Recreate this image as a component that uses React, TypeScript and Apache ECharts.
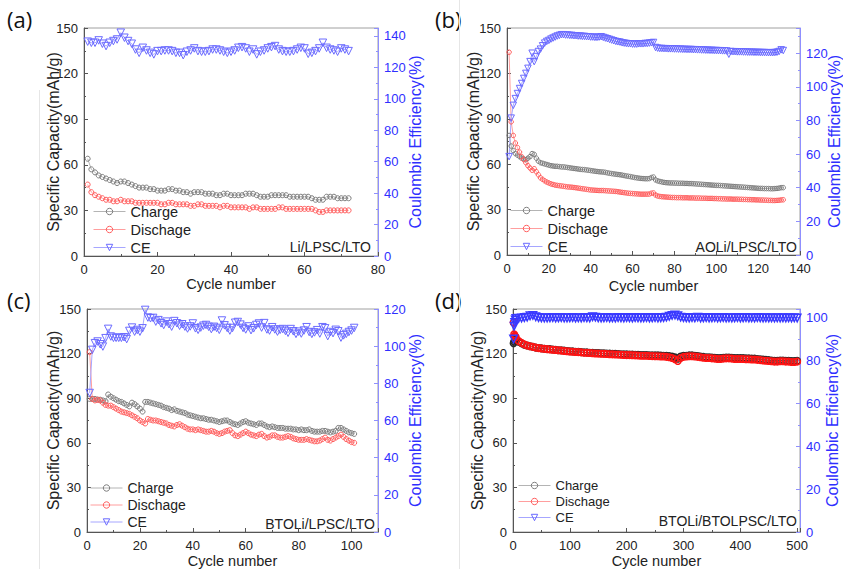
import React, { useEffect, useRef } from 'react';
import * as echarts from 'echarts';

const FONT = '"Liberation Sans", Arial, Helvetica, sans-serif';

// ---------- Panel (a) Li/LPSC/LTO : 72 cycles ----------
const chargeA = [64,57,55,53,52,51,50,49,48,49,49,48,47,46,45,45,45,44,44,43,43,43,44,44,43,43,42,42,41,42,42,42,41,41,41,40,40,41,41,40,40,40,40,41,41,41,40,39,39,39,40,40,40,40,40,39,39,39,39,39,39,38,37,37,37,39,39,39,38,38,38,38];
const dischargeA = [47,42,40,39,38,37,37,36,36,37,36,36,36,35,35,35,35,35,35,35,34,34,35,35,34,34,34,34,33,33,34,34,33,33,33,33,32,33,33,32,32,32,32,32,31,32,32,31,31,31,31,31,32,32,31,31,31,31,31,31,31,31,30,29,29,30,30,30,30,30,30,30];
const ceA = [136.3,135.6,135.6,137.1,135,133.5,135.6,136.7,137.7,142,138.8,136.7,135,131.3,129.2,132.4,130.7,129.2,128.2,130.3,130.3,130.7,130.7,130.3,129.2,129.2,127.7,129.9,130.7,132,130.3,129.9,129.9,130.3,131.3,131.3,130.7,129.9,129.2,129.9,130.7,132.4,132.8,132,129.9,131.3,128.2,129.9,130.7,132,132.8,133.5,131.3,130.3,129.9,129.9,130.3,131.3,132.4,132,128.6,129.2,130.3,132,135.6,132.4,131.3,130.7,129.9,132,131.3,130.3];

// ---------- Panel (b) AOLi/LPSC/LTO : 132 cycles ----------
const chargeB = [79,72,69,67,66,65,64,63.5,63,64,65,67,66.5,64,62,61,60.6,60.2,59.8,59.4,59,58.8,58.6,58.6,58.4,58.2,58.2,58,57.8,57.6,57.4,57.2,57,56.8,56.6,56.5,56.4,56.2,56,55.8,55.6,55.4,55.2,55,54.9,54.8,54.6,54.3,54,53.8,53.6,53.4,53.2,53,52.8,52.5,52.2,52,51.8,51.5,51.2,51,50.8,50.6,50.5,50.4,50.4,50.5,51.2,51.5,49.6,49,48.6,48.3,48,47.8,47.7,47.6,47.6,47.5,47.5,47.4,47.4,47.4,47.3,47.3,47.2,47.2,47.1,47,46.9,46.8,46.7,46.6,46.5,46.4,46.3,46.2,46.1,46,46,45.9,45.8,45.7,45.6,45.5,45.4,45.3,45.2,45.1,45,44.9,44.8,44.7,44.6,44.5,44.4,44.3,44.2,44.1,44,44,43.9,43.9,43.9,43.8,43.8,43.9,44,44.2,44.5,44.5];
const dischargeB = [134,88,79,74,71,68,65,63,61,59,57.5,56,57,55,53,51,50,49,48.2,47.6,47,46.6,46.2,46,45.8,45.6,45.4,45.2,45,44.9,44.8,44.6,44.4,44.2,44,43.8,43.6,43.4,43.2,43,42.9,42.8,42.7,42.6,42.6,42.6,42.5,42.4,42.3,42.2,42.1,42,41.8,41.6,41.4,41.2,41,40.8,40.7,40.6,40.5,40.4,40.3,40.2,40.2,40.2,40.2,40.3,40.8,41,39.6,39,38.7,38.5,38.4,38.3,38.2,38.1,38,38,37.9,37.9,37.9,37.8,37.8,37.8,37.7,37.7,37.7,37.6,37.6,37.6,37.5,37.5,37.5,37.4,37.4,37.4,37.3,37.3,37.2,37.2,37.1,37.1,37,37,37,36.9,36.9,36.9,36.8,36.8,36.7,36.7,36.6,36.6,36.5,36.5,36.4,36.4,36.3,36.3,36.2,36.2,36.1,36.1,36,36,36.1,36.2,36.4,36.5];
const ceB = [58.5,81.4,89,93,96,99,102,105,108,111,115,120,115,118,121,122.4,124.4,126,127,127.6,128.4,129,129.6,130.2,130.6,131,131,130.8,130.8,130.6,130.6,130.4,130.4,130.2,130.2,130,130,129.8,129.8,129.6,129.6,129.4,129.4,129.6,129.8,129.4,129,128.6,128.2,127.8,127.4,127,126.8,126.6,126.2,126,125.8,125.6,125.6,125.4,125.4,125.4,125.6,125.6,125.6,125.8,125.8,126,126.2,126.4,123.4,123,122.8,122.8,122.7,122.7,122.6,122.6,122.6,122.5,122.5,122.4,122.4,122.3,122.3,122.2,122.2,122.2,122.1,122.1,122,122,121.9,121.9,121.8,121.8,121.7,121.7,121.6,121.6,121.5,121.5,121.4,121.4,121.3,119.4,121,120.9,120.9,120.8,120.8,120.8,120.7,120.7,120.6,120.6,120.6,120.5,120.5,120.5,120.4,120.4,120.4,120.3,120.3,120.3,120.3,120.4,120.6,121,122,121.6];

// ---------- Panel (c) BTOLi/LPSC/LTO : 101 cycles ----------
const chargeC = [89.5,89.5,89.5,89,89,88.5,88,92.5,91,90,89,88,87.5,86.5,85.5,84.5,87,86,84.5,83,81,87.5,87.5,87,86.5,86,85.5,85,84,83.5,83,82,82.5,81.5,81,80.5,80,79,78.5,78,77.5,77,76.5,76.5,76,75.5,75.5,75,74.5,74,74.5,75,75,74,73,72.5,72,73,74,74.5,73.5,73,72.5,72,73,73,72,71,70.5,71,70.5,70,70,70,69.5,69.5,69.5,69,69,68.5,69,68.5,68.5,69,68,67.5,67.5,67.5,68,68,67.5,67,67.5,68,70,70,69,68,67,66.5,66];
const dischargeC = [121,89.5,88.5,89,88.5,87,85.5,85,85,84,83,82,81,80.5,80,79.5,78.5,77.5,76.5,75,74,73,76,75.5,75,75,74.5,74,73.5,73,72,71.5,71,72,72.5,71.5,70.5,69.5,69,69,68.5,69,68.5,68,67.5,67.5,68,67.5,66.5,66,66.5,67.5,68,68.5,66.5,65,64.5,65.5,66.5,67.5,66.5,65.5,65,64.5,65.5,66,64.5,63.5,64,65,65,64,63.5,63.5,64,64.5,64,63,62.5,62,62,62,62.5,62,61.5,61,61,61.5,62.5,63.5,62,61.5,62.5,63.5,64.5,65.5,64,62.5,61.5,60.5,60];
const ceC = [74.8,98,101.6,102.5,101,99.8,104.3,109.3,105.2,104.5,104.5,104.5,104.5,104.8,103.8,108.2,110,107.8,108.7,107.8,109.6,119.5,115.4,115,115.2,113.2,114,112.3,111.4,113.2,111.8,110.5,113.5,112.3,111,111.8,110.5,109.5,110.6,112.2,109.6,108.8,110,111,111.4,110.4,109.2,110.4,109.8,108.8,113.8,111.2,109.8,108.4,109.8,112.6,113,111.6,109.8,109,110.6,108.6,109.6,111.4,112.2,110,112.4,109,108.4,110.2,109,107.8,108.8,109.2,108.2,107.2,109.2,108,106.6,107.8,106.8,108.4,110.2,107.6,106.6,107.4,108.6,106.8,110.2,109.6,105.4,107.6,107,108.8,108,104.6,105.8,106.6,107.6,108.4,109.8];

// ---------- Panel (d) BTOLi/BTOLPSC/LTO : 500 cycles (read every 5th cycle) ----------
const cyclesD = [1, 2, 3, 4, 5, 10, 15, 20, 25, 30, 35, 40, 45, 50,
  55, 60, 65, 70, 75, 80, 85, 90, 95, 100, 105, 110, 115, 120, 125, 130, 135, 140, 145, 150,
  155, 160, 165, 170, 175, 180, 185, 190, 195, 200, 205, 210, 215, 220, 225, 230, 235, 240, 245, 250,
  255, 260, 265, 270, 275, 280, 285, 290, 295, 300, 305, 310, 315, 320, 325, 330, 335, 340, 345, 350,
  355, 360, 365, 370, 375, 380, 385, 390, 395, 400, 405, 410, 415, 420, 425, 430, 435, 440, 445, 450,
  455, 460, 465, 470, 475, 480, 485, 490, 495, 500];
const chargeD = [127,128,129,129.5,129.5,
  128,127,126,125.5,125,124.5,124,123.8,123.5,
  123.3,123,123,122.8,122.5,122.3,122.2,122,121.8,121.6,
  121.5,121.3,121.2,121,120.8,120.8,120.6,120.5,120.4,120.4,
  120.2,120.2,120,120,119.8,119.8,119.7,119.6,119.5,119.5,
  119.4,119.3,119.2,119.2,119.1,119,119,118.9,118.8,118.8,
  118.8,118.7,118.6,118.5,118.3,118,117.5,116.5,118,118.5,
  118.6,118.8,118.8,118.6,118.4,118,117.8,117.6,117.6,117.4,
  117.2,117,117,117.2,117.4,117.4,117.2,117,117,117,
  117,116.8,116.8,116.6,116.6,116.4,116.2,116,115.8,115.6,
  115.4,115.2,115.2,115.4,115.4,115.2,115.2,115,115,115.2];
const dischargeD = [141,133,132,131.5,131,
  128.5,127.2,126.2,125.5,125,124.5,124,123.7,123.4,
  123.2,123,122.8,122.6,122.4,122.2,122,121.8,121.6,121.4,
  121.3,121.1,121,120.8,120.6,120.5,120.4,120.2,120.1,120,
  119.9,119.8,119.7,119.6,119.5,119.4,119.3,119.2,119.1,119,
  119,118.9,118.8,118.7,118.6,118.6,118.5,118.4,118.3,118.2,
  118.2,118.1,118,117.8,117.5,117,116.2,115,117,117.8,
  118,118.2,118.2,118,117.8,117.5,117.2,117,117,116.8,
  116.6,116.4,116.4,116.6,116.8,116.8,116.6,116.4,116.4,116.4,
  116.4,116.2,116.2,116,116,115.8,115.6,115.4,115.2,115,
  114.8,114.6,114.6,114.8,114.8,114.6,114.6,114.4,114.4,114.6];
const ceD = [90,96,97.7,98.9,99.6,
  99.7,99.8,100,100.2,100.8,101,100.4,100,99.9,
  99.8,99.8,99.9,100,99.8,99.9,100,99.8,99.8,99.9,
  100,99.8,99.9,99.8,100,99.9,99.8,100.4,100.2,99.9,
  99.8,99.9,100,99.8,99.9,99.8,100,99.9,99.8,100,
  99.9,99.8,100,99.9,99.8,99.9,100,99.8,99.9,100,
  99.8,99.9,100,100.2,100.6,101,101.2,100.8,100.2,100,
  99.9,99.8,100,99.9,100.2,99.8,99.9,100,99.8,99.9,
  100,99.8,99.9,100,99.8,99.9,99.8,99.9,100,99.8,
  99.9,100,99.8,99.9,99.8,100,99.9,99.8,99.9,99.8,
  99.9,99.8,99.9,99.8,99.9,99.8,99.9,99.8,99.9,99.8];

const panelLabels = ['(a)', '(b)', '(c)', '(d)'];
const cellNames = ['Li/LPSC/LTO', 'AOLi/LPSC/LTO', 'BTOLi/LPSC/LTO', 'BTOLi/BTOLPSC/LTO'];
const legendNames = ['Charge', 'Dischage', 'CE'];
const leftAxisName = 'Specific Capacity(mAh/g)';
const rightAxisName = 'Coulombic Efficiency(%)';
const xAxisName = 'Cycle number';

const seq = (arr: number[]) => arr.map((_, i) => i + 1);
const pairs = (xs: number[], ys: number[]) => ys.map((y, i) => [xs[i], y]);

const panels = [
  { xs: seq(chargeA), charge: chargeA, discharge: dischargeA, ce: ceA, xMax: 80, xInt: 20, rMax: 145 },
  { xs: seq(chargeB), charge: chargeB, discharge: dischargeB, ce: ceB, xMax: 140, xInt: 20, rMax: 135 },
  { xs: seq(chargeC), charge: chargeC, discharge: dischargeC, ce: ceC, xMax: 110, xInt: 20, rMax: 120 },
  { xs: cyclesD, charge: chargeD, discharge: dischargeD, ce: ceD, xMax: 505, xInt: 100, rMax: 104 },
];

// layout (pixels)
const grids = [
  { left: 84, top: 28, width: 294, height: 228 },
  { left: 507, top: 28, width: 296, height: 227 },
  { left: 87, top: 309, width: 291, height: 224 },
  { left: 513, top: 309, width: 287, height: 224 },
];
const leftNameGap = [23, 26, 26, 28];
const rightNameGap = [29, 26, 29, 24];
const xNameGap = [20, 23, 21, 21];
const legendPos = [
  { left: 93, top: 204, fs: 14.5 },
  { left: 510, top: 203, fs: 14.5 },
  { left: 90, top: 481, fs: 14 },
  { left: 518, top: 479, fs: 13 },
];
const labelPos = [
  { x: 7, y: 21 }, { x: 435, y: 21 }, { x: 7, y: 302 }, { x: 435, y: 302 },
];
const cellPos = [
  { x: 371, y: 247, fs: 14 }, { x: 797, y: 247, fs: 14 }, { x: 375, y: 524, fs: 14 }, { x: 797, y: 521, fs: 14 },
];

const BLUE_AXIS = '#8f8fff';
const BLUE_TEXT = '#2f2fff';
const DARK = '#222';
const AXIS_GRAY = '#555';

const styleSets = [
  { c: ['#7c7c7c', '#ff5c5c', '#6a6aff'], l: ['#b4b4b4', '#ff9e9e', '#a6a6ff'], size: [5, 5, 7.5], bw: 1 },
  { c: ['#7c7c7c', '#ff5c5c', '#6a6aff'], l: ['#b4b4b4', '#ff9e9e', '#a6a6ff'], size: [4.5, 4.5, 6.5], bw: 1 },
  { c: ['#7c7c7c', '#ff5c5c', '#6a6aff'], l: ['#b4b4b4', '#ff9e9e', '#a6a6ff'], size: [5, 5, 7.5], bw: 1 },
  { c: ['#2a2a2a', '#ff1414', '#3a3aff'], l: ['#555555', '#ff4040', '#6a6aff'], size: [6.5, 6.5, 7.5], bw: 1.5 },
];

export default function App() {
  const ref = useRef<HTMLDivElement>(null);
  useEffect(() => {
    if (!ref.current) return;
    const chart = echarts.init(ref.current, undefined, { renderer: 'svg' });

    const xAxis: any[] = [];
    const yAxis: any[] = [];
    const series: any[] = [];
    const legend: any[] = [];
    const graphic: any[] = [];

    panels.forEach((p, i) => {
      xAxis.push({
        type: 'value', gridIndex: i, min: 0, max: p.xMax, interval: p.xInt,
        name: xAxisName, nameLocation: 'middle', nameGap: xNameGap[i], nameMoveOverlap: false,
        nameTextStyle: { fontSize: 14.5, color: DARK, fontFamily: FONT },
        axisLine: { show: true, onZero: false, lineStyle: { color: AXIS_GRAY, width: 1 } },
        axisTick: { show: true, inside: true, length: 4, lineStyle: { color: AXIS_GRAY } },
        minorTick: { show: true, splitNumber: 2, length: 2, lineStyle: { color: AXIS_GRAY } },
        axisLabel: { fontSize: 13, lineHeight: 13, color: DARK, margin: 7, fontFamily: FONT, showMaxLabel: p.xMax % p.xInt === 0 },
        splitLine: { show: false },
      });
      yAxis.push({
        type: 'value', gridIndex: i, min: 0, max: 150, interval: 30, position: 'left',
        name: leftAxisName, nameLocation: 'middle', nameGap: leftNameGap[i], nameRotate: 90, nameMoveOverlap: false,
        nameTextStyle: { fontSize: 16, color: DARK, fontFamily: FONT },
        axisLine: { show: true, onZero: false, lineStyle: { color: AXIS_GRAY, width: 1 } },
        axisTick: { show: true, inside: true, length: 4, lineStyle: { color: AXIS_GRAY } },
        minorTick: { show: true, splitNumber: 2, length: 2, lineStyle: { color: AXIS_GRAY } },
        axisLabel: { fontSize: 13, lineHeight: 13, color: DARK, margin: 6, fontFamily: FONT },
        splitLine: { show: false },
      });
      yAxis.push({
        type: 'value', gridIndex: i, min: 0, max: p.rMax, interval: 20, position: 'right',
        name: rightAxisName, nameLocation: 'middle', nameGap: rightNameGap[i], nameRotate: 90, nameMoveOverlap: false,
        nameTextStyle: { fontSize: 16, color: BLUE_TEXT, fontFamily: FONT },
        axisLine: { show: true, onZero: false, lineStyle: { color: BLUE_AXIS, width: 1 } },
        axisTick: { show: true, inside: true, length: 4, lineStyle: { color: BLUE_AXIS } },
        minorTick: { show: true, splitNumber: 2, length: 2, lineStyle: { color: BLUE_AXIS } },
        axisLabel: { fontSize: 13, lineHeight: 13, color: BLUE_TEXT, margin: 6, fontFamily: FONT, showMaxLabel: p.rMax % 20 === 0 },
        splitLine: { show: false },
      });

      const st = styleSets[i];
      const sets = [p.charge, p.discharge, p.ce];
      sets.forEach((ys, k) => {
        series.push({
          type: 'line', name: legendNames[k], xAxisIndex: i, yAxisIndex: k === 2 ? 2 * i + 1 : 2 * i,
          data: pairs(p.xs, ys),
          symbol: k === 2 ? 'triangle' : 'circle', symbolRotate: k === 2 ? 180 : 0,
          symbolSize: st.size[k], showSymbol: true,
          itemStyle: { color: 'rgba(255,255,255,0)', borderColor: st.c[k], borderWidth: st.bw },
          lineStyle: { color: st.l[k], width: 1 },
          emphasis: { disabled: true }, silent: true,
        });
      });

      legend.push({
        orient: 'vertical', left: legendPos[i].left, top: legendPos[i].top,
        itemWidth: 32, itemHeight: 8, itemGap: 3, padding: 0, selectedMode: false,
        textStyle: { fontSize: legendPos[i].fs, color: DARK, fontFamily: FONT },
        data: legendNames.map((n, k) => ({
          name: n,
          itemStyle: { color: 'rgba(255,255,255,0)', borderColor: styleSets[0].c[k], borderWidth: 1 },
          lineStyle: { color: styleSets[0].l[k], width: 1 },
        })),
      });

      graphic.push({
        type: 'text', left: labelPos[i].x, top: labelPos[i].y - 13,
        style: { text: panelLabels[i], fontSize: 22, fontFamily: '"Open Sans", "Noto Sans", sans-serif', fill: '#111' },
      });
      graphic.push({
        type: 'text', x: cellPos[i].x, y: cellPos[i].y,
        style: {
          text: cellNames[i], fontSize: cellPos[i].fs, fontFamily: FONT, fill: DARK,
          align: 'right', verticalAlign: 'middle', textAlign: 'right', textVerticalAlign: 'middle',
        },
      });
    });

    graphic.push({ type: 'line', shape: { x1: 39.5, y1: 90, x2: 39.5, y2: 569 }, style: { stroke: '#e6e6e6', lineWidth: 1 } });
    graphic.push({ type: 'line', shape: { x1: 459.5, y1: 0, x2: 459.5, y2: 569 }, style: { stroke: '#e6e6e6', lineWidth: 1 } });

    chart.setOption({
      animation: false,
      backgroundColor: '#ffffff',
      textStyle: { fontFamily: FONT },
      grid: grids.map((g) => ({ ...g, show: true, borderColor: '#a0a0a0', borderWidth: 1, backgroundColor: 'transparent' })),
      xAxis, yAxis, series, legend, graphic,
    });
    return () => chart.dispose();
  }, []);
  return <div ref={ref} style={{ position: 'fixed', left: 0, top: 0, width: 843, height: 569, background: '#fff' }} />;
}
